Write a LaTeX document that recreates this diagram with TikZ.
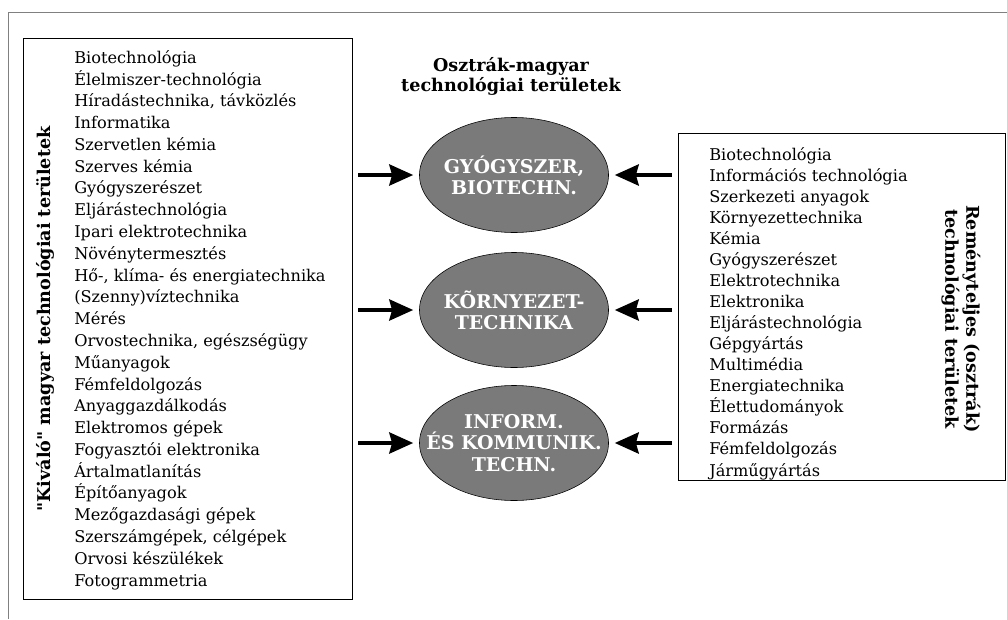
\documentclass[tikz,border=0pt]{standalone}
\usepackage{fontspec}
\setmainfont{DejaVu Serif}
\usetikzlibrary{shapes.geometric,arrows.meta}

\begin{document}
\begin{tikzpicture}[x=0.025cm,y=-0.025cm,
  doboz/.style={draw,inner sep=0pt},
  tetel/.style={anchor=base west,inner sep=0pt,font=\fontsize{11.5}{13}\selectfont},
  terulet/.style={ellipse,draw,fill=black!52,text=white,align=center,inner xsep=-18pt,inner ysep=0pt,
    minimum width=4.725cm,minimum height=2.875cm,font=\bfseries\fontsize{13.5}{15}\selectfont},
  nyil/.style={-{Stealth[length=17pt,width=15pt,inset=2pt]},line width=2.6pt}]
  \useasboundingbox (0,0) rectangle (1007,619);
  \draw[gray] (1007,12) -- (8,12) -- (8,619);
  \node[doboz,minimum width=8.225cm,minimum height=14.025cm] (kivalo) at (187.5,318.5) {};
  \node[doboz,minimum width=8.175cm,minimum height=8.675cm] (remeny) at (841.5,306.5) {};
  \foreach \t [count=\i from 0] in {Biotechnológia,Élelmiszer-technológia,
      {Híradástechnika, távközlés},Informatika,Szervetlen kémia,Szerves kémia,
      Gyógyszerészet,Eljárástechnológia,Ipari elektrotechnika,Növénytermesztés,
      {Hő-, klíma- és energiatechnika},(Szenny)víztechnika,Mérés,
      {Orvostechnika, egészségügy},Műanyagok,Fémfeldolgozás,Anyaggazdálkodás,
      Elektromos gépek,Fogyasztói elektronika,Ártalmatlanítás,Építőanyagok,
      Mezőgazdasági gépek,{Szerszámgépek, célgépek},Orvosi készülékek,Fotogrammetria}
    \node[tetel] (k\i) at (74,{63.3+21.78*\i}) {\t};
  \foreach \t [count=\i from 0] in {Biotechnológia,Információs technológia,
      Szerkezeti anyagok,Környezettechnika,Kémia,Gyógyszerészet,Elektrotechnika,
      Elektronika,Eljárástechnológia,Gépgyártás,Multimédia,Energiatechnika,
      Élettudományok,Formázás,Fémfeldolgozás,Járműgyártás}
    \node[tetel] (r\i) at (709,{160+21.07*\i}) {\t};
  \node[rotate=90,font=\bfseries\fontsize{12.5}{14}\selectfont] (kcim) at (45,319)
    {\textquotedbl Kiváló\textquotedbl{} magyar technológiai területek};
  \node[rotate=-90,align=center,font=\bfseries\fontsize{12.5}{15}\selectfont] (rcim) at (961,319)
    {Reményteljes (osztrák)\\technológiai területek};
  \node[align=center,font=\bfseries\fontsize{12.5}{14.2}\selectfont] (cim) at (511,76)
    {Osztrák-magyar\\technológiai területek};
  \node[terulet] (gyogy) at (514,175) {GYÓGYSZER,\\BIOTECHN.};
  \node[terulet] (korny) at (514,310) {KÕRNYEZET-\\TECHNIKA};
  \node[terulet] (info) at (514,443) {INFORM.\\ÉS KOMMUNIK.\\TECHN.};
  \foreach \e in {gyogy,korny,info} {
    \draw[nyil,shorten <=0.15cm,shorten >=0.15cm] (kivalo.east |- \e) -- (\e.west);
    \draw[nyil,shorten <=0.15cm,shorten >=0.15cm] (remeny.west |- \e) -- (\e.east);
  }
\end{tikzpicture}
\end{document}
